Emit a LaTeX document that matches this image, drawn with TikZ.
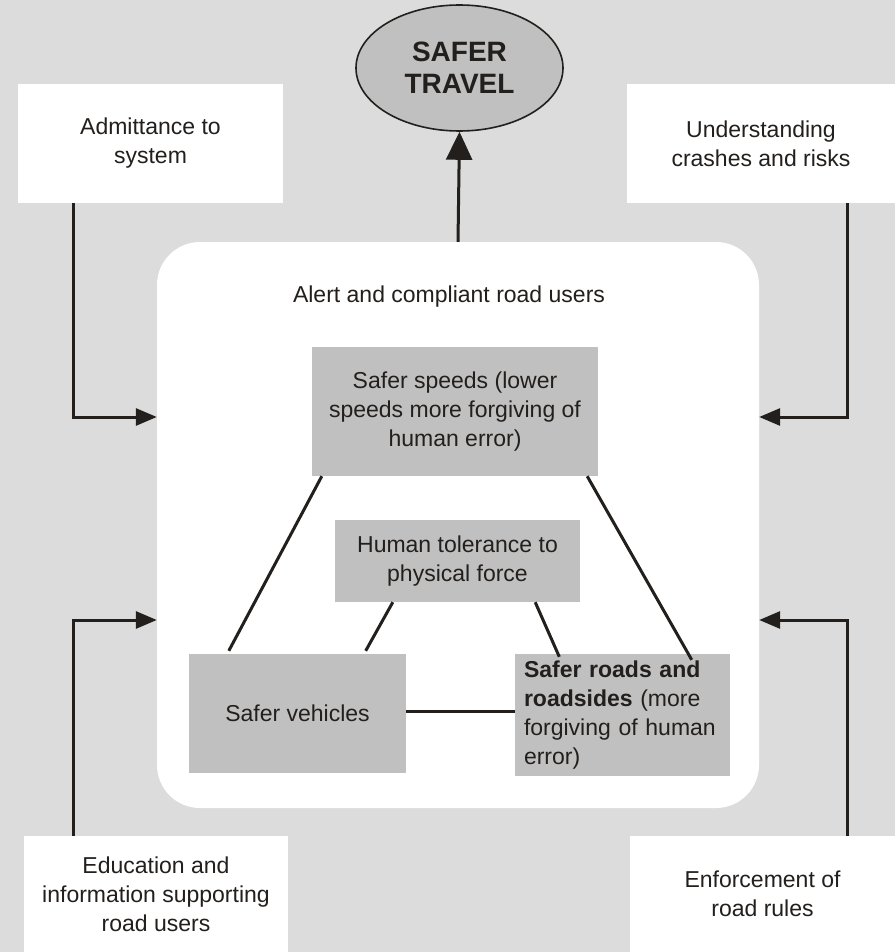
\documentclass[tikz,border=0pt]{standalone}
\usepackage{fontspec}
\setmainfont{Liberation Sans}
\usetikzlibrary{shapes.geometric,arrows.meta,calc}
\definecolor{bggray}{HTML}{DCDCDC}
\definecolor{boxgray}{HTML}{C0C0C0}
\definecolor{ink}{HTML}{221F1C}
\tikzset{
  txt/.style={font=\fontsize{23}{29}\selectfont, text=ink, align=center},
  whitebox/.style={txt, fill=white, inner sep=0pt},
  graybox/.style={txt, fill=boxgray, inner sep=0pt},
  conn/.style={draw=ink, line width=3pt},
  sidearrow/.style={conn, -{Triangle[length=21pt,width=17pt]}},
}
\begin{document}
\begin{tikzpicture}[x=1pt,y=-1pt]
\useasboundingbox (0,0) rectangle (895,952);
\fill[bggray] (0,0) rectangle (895,952);
% outer boxes
\node[whitebox, minimum width=265pt, minimum height=119pt] (adm) at (150.5,143.5) {Admittance to\\system};
\node[whitebox, minimum width=268pt, minimum height=119pt] (und) at (761,143.5) {Understanding\\crashes and risks};
\node[whitebox, minimum width=264pt, minimum height=116pt] (edu) at (156,894) {Education and\\information supporting\\road users};
\node[whitebox, minimum width=265pt, minimum height=116pt] (enf) at (762.5,894) {Enforcement of\\road rules};
% goal
\node[ellipse, draw=ink, line width=1.6pt, fill=boxgray, minimum width=207pt, minimum height=126pt,
      font=\fontsize{28}{32}\selectfont\bfseries, text=ink, align=center, inner sep=0pt] (goal) at (459.5,68) {SAFER\\TRAVEL};
% inner system
\node[fill=white, rounded corners=43pt, minimum width=602pt, minimum height=566pt, inner sep=0pt] (inner) at (458,525) {};
\node[txt] (alert) at (449,297) {Alert and compliant road users};
\node[graybox, minimum width=286pt, minimum height=129pt] (speed) at (455,411.5) {Safer speeds (lower\\speeds more forgiving of\\human error)};
\node[graybox, minimum width=245pt, minimum height=82pt] (human) at (457.5,561) {Human tolerance to\\physical force};
\node[graybox, minimum width=217pt, minimum height=119pt] (veh) at (297.5,713.5) {Safer vehicles};
\node[graybox, minimum width=215pt, minimum height=122pt, text width=197pt, align=left, inner xsep=9pt] (roads) at (622.5,715)
  {\textbf{Safer roads and roadsides} (more forgiving of human error)};
% coordinates for connectors
\coordinate (l1) at (73,417);
\coordinate (r1) at (847,417);
\coordinate (l2) at (73,620);
\coordinate (r2) at (847,620);
\draw[sidearrow] (adm.south -| l1) |- (inner.west |- l1);
\draw[sidearrow] (und.south -| r1) |- (inner.east |- r1);
\draw[sidearrow] (edu.north -| l2) |- (inner.west |- l2);
\draw[sidearrow] (enf.north -| r2) |- (inner.east |- r2);
\draw[conn, -{Triangle[length=28pt,width=26pt]}] (inner.north) -- (goal.south);
% triangle links
\draw[conn] ([xshift=10pt]speed.south west) -- ([xshift=40pt,yshift=3pt]veh.north west);
\draw[conn] ([xshift=-11pt]speed.south east) -- ([xshift=-38.5pt,yshift=-6pt]roads.north east);
\draw[conn] ([xshift=58pt]human.south west) -- ([xshift=-40.5pt,yshift=3pt]veh.north east);
\draw[conn] ([xshift=-45pt]human.south east) -- ([xshift=44.5pt,yshift=-3pt]roads.north west);
\draw[conn] ([yshift=2.5pt]veh.east) -- ([yshift=2.5pt]veh.east -| roads.west);
\end{tikzpicture}
\end{document}
